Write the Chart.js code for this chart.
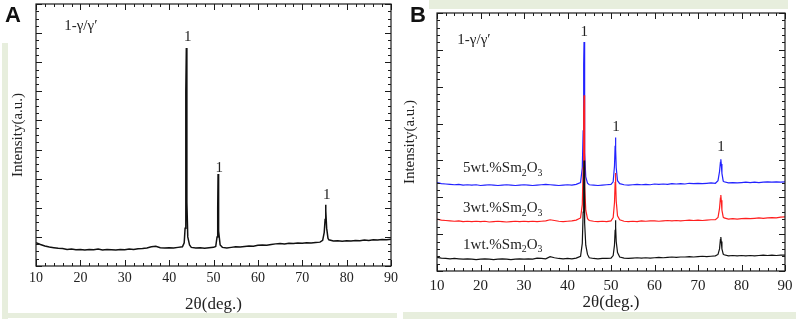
<!DOCTYPE html>
<html>
<head>
<meta charset="utf-8">
<script src="https://cdn.jsdelivr.net/npm/chart.js@4.4.1/dist/chart.umd.min.js"></script>
<style>
  html, body { margin: 0; padding: 0; background: #fff; }
  #page { position: relative; width: 796px; height: 319px; overflow: hidden; }
  .panel { position: absolute; top: 0; width: 400px; height: 319px; }
  .panel canvas { display: block; }
  .tag { position: absolute; font: bold 22px "Liberation Sans", Arial, sans-serif; color: #111; line-height: 22px; }
  .deco { position: absolute; background: #e7eedd; }
</style>
</head>
<body>
<div id="page">
  <div class="deco" style="left:2px;top:43px;width:6px;height:276px;"></div>
  <div class="deco" style="left:2px;top:313px;width:395px;height:5px;"></div>
  <div class="deco" style="left:429px;top:0;width:359px;height:9px;"></div>
  <div class="deco" style="left:403px;top:312px;width:393px;height:7px;"></div>
  <div class="panel" style="left:0;"><canvas id="chartA" width="400" height="319"></canvas></div>
  <div class="panel" style="left:396px;"><canvas id="chartB" width="400" height="319"></canvas></div>
  <div class="tag" style="left:5px;top:4px;">A</div>
  <div class="tag" style="left:410px;top:4px;">B</div>
</div>
<script>
// 2θ positions (deg), shared by every pattern
const twoTheta = [
  10, 11, 12, 13, 14, 15, 16, 17, 18, 19, 20, 21, 22, 23, 24, 25, 26, 27, 28, 29,
  30, 31, 32, 33, 34, 35, 36, 37, 38, 39, 40, 41, 42, 43,
  43.4, 43.6, 43.72, 43.8, 43.88, 44.0, 44.2, 44.6,
  45, 46, 47, 48, 49, 50,
  50.5, 50.8, 50.95, 51.03, 51.1, 51.2, 51.5,
  52, 53, 54, 55, 56, 57, 58, 59, 60, 61, 62, 63, 64, 65, 66, 67, 68, 69, 70, 71, 72, 73, 74,
  74.6, 74.95, 75.15, 75.25, 75.35, 75.5, 75.8,
  76, 77, 78, 79, 80, 81, 82, 83, 84, 85, 86, 87, 88, 89, 90
];

// panel A
const intensityA = [
  0.80, 0.74, 0.69, 0.65, 0.63, 0.61, 0.60, 0.57, 0.58, 0.56, 0.57, 0.55, 0.57, 0.56, 0.58, 0.55, 0.57, 0.56, 0.55, 0.57,
  0.56, 0.58, 0.57, 0.59, 0.60, 0.62, 0.66, 0.68, 0.63, 0.62, 0.63, 0.62, 0.64, 0.66,
  0.80, 1.30, 2.80, 6.00, 7.49, 2.20, 1.00, 0.72,
  0.64, 0.62, 0.63, 0.61, 0.63, 0.64,
  0.67, 1.00, 2.00, 3.16, 2.30, 1.20, 0.72,
  0.64, 0.62, 0.64, 0.66, 0.65, 0.67, 0.69, 0.68, 0.71, 0.72, 0.71, 0.74, 0.76, 0.77, 0.76, 0.78, 0.77, 0.79, 0.78, 0.80, 0.79, 0.81, 0.82,
  0.88, 1.15, 1.60, 2.10, 1.90, 1.30, 0.95,
  0.90, 0.86, 0.87, 0.85, 0.87, 0.86, 0.88, 0.87, 0.89, 0.88, 0.90, 0.89, 0.91, 0.90, 0.92
];

// panel B
const intensity1wt = [
  0.37, 0.35, 0.34, 0.33, 0.34, 0.33, 0.32, 0.33, 0.32, 0.31, 0.32, 0.33, 0.32, 0.31, 0.32, 0.33, 0.32, 0.31, 0.32, 0.33,
  0.32, 0.33, 0.32, 0.35, 0.34, 0.33, 0.39, 0.36, 0.34, 0.33, 0.34, 0.33, 0.35, 0.40,
  0.75, 1.60, 2.60, 3.00, 2.40, 1.30, 0.70, 0.45,
  0.36, 0.34, 0.33, 0.34, 0.34, 0.35,
  0.42, 0.70, 1.10, 1.38, 1.20, 0.80, 0.50,
  0.38, 0.35, 0.34, 0.35, 0.36, 0.35, 0.36, 0.35, 0.36, 0.37, 0.36, 0.37, 0.38, 0.37, 0.38, 0.38, 0.39, 0.38, 0.39, 0.40, 0.39, 0.40, 0.41,
  0.45, 0.60, 0.85, 0.92, 0.80, 0.60, 0.46,
  0.44, 0.41, 0.42, 0.41, 0.42, 0.41, 0.42, 0.41, 0.42, 0.43, 0.42, 0.43, 0.42, 0.43, 0.43
];
const intensity3wt = [
  1.41, 1.38, 1.37, 1.36, 1.35, 1.36, 1.34, 1.35, 1.34, 1.35, 1.34, 1.35, 1.33, 1.34, 1.35, 1.34, 1.33, 1.34, 1.35, 1.34,
  1.35, 1.34, 1.35, 1.34, 1.35, 1.36, 1.39, 1.37, 1.35, 1.34, 1.35, 1.36, 1.38, 1.44,
  1.80, 2.80, 4.30, 4.77, 3.80, 2.30, 1.65, 1.42,
  1.37, 1.35, 1.34, 1.35, 1.34, 1.36,
  1.45, 1.85, 2.40, 2.66, 2.40, 1.90, 1.50,
  1.39, 1.35, 1.34, 1.35, 1.34, 1.36, 1.35, 1.36, 1.36, 1.35, 1.36, 1.37, 1.36, 1.37, 1.36, 1.37, 1.38, 1.37, 1.38, 1.37, 1.38, 1.39, 1.39,
  1.45, 1.70, 1.98, 2.06, 1.92, 1.65, 1.46,
  1.44, 1.41, 1.42, 1.41, 1.42, 1.43, 1.42, 1.43, 1.44, 1.43, 1.44, 1.45, 1.44, 1.46, 1.47
];
const intensity5wt = [
  2.40, 2.37, 2.36, 2.35, 2.34, 2.35, 2.33, 2.34, 2.33, 2.34, 2.32, 2.33, 2.34, 2.33, 2.32, 2.33, 2.34, 2.33, 2.32, 2.33,
  2.34, 2.33, 2.32, 2.33, 2.34, 2.35, 2.34, 2.33, 2.32, 2.33, 2.34, 2.33, 2.35, 2.40,
  2.80, 3.80, 5.60, 6.21, 4.80, 3.20, 2.55, 2.38,
  2.34, 2.33, 2.32, 2.33, 2.34, 2.35,
  2.42, 2.85, 3.40, 3.62, 3.30, 2.80, 2.45,
  2.37, 2.34, 2.33, 2.34, 2.35, 2.34, 2.35, 2.34, 2.36, 2.35, 2.36, 2.35, 2.37, 2.36, 2.37, 2.36, 2.38, 2.37, 2.38, 2.37, 2.38, 2.39, 2.38,
  2.45, 2.70, 2.95, 3.03, 2.90, 2.65, 2.44,
  2.42, 2.39, 2.40, 2.39, 2.40, 2.41, 2.40, 2.41, 2.40, 2.41, 2.42, 2.41, 2.42, 2.41, 2.42
];

const xTickLabels = [10, 20, 30, 40, 50, 60, 70, 80, 90];
const phaseLabel = '1-γ/γ′';
const peakIndex = '1';
const samples = [['1wt.%Sm', '2', 'O', '3'], ['3wt.%Sm', '2', 'O', '3'], ['5wt.%Sm', '2', 'O', '3']];

const SERIF = '"Liberation Serif", "Times New Roman", serif';
Chart.defaults.font.family = SERIF;
Chart.defaults.color = '#222';

function toPoints(values) {
  return twoTheta.map((t, i) => ({ x: t, y: values[i] }));
}

// inward ticks on all four sides + frame
const framePlugin = {
  id: 'frame',
  afterDraw(chart) {
    const { ctx, chartArea: a, scales: { x, y } } = chart;
    ctx.save();
    ctx.strokeStyle = '#1a1a1a';
    ctx.lineWidth = 1.2;
    ctx.strokeRect(a.left, a.top, a.right - a.left, a.bottom - a.top);
    ctx.lineWidth = 1;
    ctx.beginPath();
    x.ticks.forEach(t => {
      const px = Math.round(x.getPixelForValue(t.value)) + 0.5;
      const len = Math.abs(t.value % 10) < 1e-6 ? 6 : 3;
      ctx.moveTo(px, a.bottom); ctx.lineTo(px, a.bottom - len);
      ctx.moveTo(px, a.top); ctx.lineTo(px, a.top + len);
    });
    y.ticks.forEach(t => {
      const py = Math.round(y.getPixelForValue(t.value)) + 0.5;
      const len = Math.abs(t.value - Math.round(t.value)) < 1e-6 ? 6 : 3;
      ctx.moveTo(a.left, py); ctx.lineTo(a.left + len, py);
      ctx.moveTo(a.right, py); ctx.lineTo(a.right - len, py);
    });
    ctx.stroke();
    ctx.restore();
  }
};

// text notes placed in data coordinates; parts alternate normal / subscript
function notesPlugin(notes) {
  return {
    id: 'notes',
    afterDatasetsDraw(chart) {
      const { ctx, scales: { x, y } } = chart;
      ctx.save();
      ctx.fillStyle = '#222';
      ctx.textBaseline = 'middle';
      notes.forEach(n => {
        let px = x.getPixelForValue(n.x);
        const py = y.getPixelForValue(n.y);
        const size = n.size || 15;
        if (n.parts) {
          ctx.textAlign = 'left';
          n.parts.forEach((p, i) => {
            const sub = i % 2 === 1;
            ctx.font = (sub ? size * 0.65 : size) + 'px ' + SERIF;
            ctx.fillText(p, px, sub ? py + 5 : py);
            px += ctx.measureText(p).width;
          });
        } else {
          ctx.textAlign = 'center';
          ctx.font = size + 'px ' + SERIF;
          ctx.fillText(n.text, px, py);
        }
      });
      ctx.restore();
    }
  };
}

function makeOptions(cfg) {
  return {
    responsive: false,
    animation: false,
    layout: { padding: cfg.padding },
    plugins: { legend: { display: false }, tooltip: { enabled: false } },
    elements: { point: { radius: 0 }, line: { tension: 0 } },
    scales: {
      x: {
        type: 'linear', min: 10, max: 90,
        grid: { display: false, drawTicks: false },
        border: { display: false },
        afterFit: s => { s.height = cfg.xHeight; },
        ticks: {
          stepSize: 2, autoSkip: false, maxRotation: 0,
          padding: 2,
          font: { family: SERIF, size: cfg.tickSize, lineHeight: cfg.tickLine },
          color: '#222',
          callback: v => xTickLabels.includes(v) ? String(v) : ''
        },
        title: {
          display: true, text: '2θ(deg.)', color: '#222',
          font: { family: SERIF, size: 17 },
          padding: { top: 0, bottom: cfg.xTitleBottom }
        }
      },
      y: {
        min: 0, max: cfg.yMax,
        grid: { display: false, drawTicks: false },
        border: { display: false },
        afterFit: s => { s.width = cfg.yWidth; },
        ticks: { display: false, stepSize: cfg.yStep },
        title: {
          display: true, text: 'Intensity(a.u.)', color: '#222',
          font: { family: SERIF, size: 15 },
          padding: { top: cfg.yTitleTop, bottom: 0 }
        }
      }
    }
  };
}

const notesA = [
  { x: 20.1, y: 8.25, text: phaseLabel },
  { x: 44.2, y: 7.85, text: peakIndex },
  { x: 51.3, y: 3.35, text: peakIndex },
  { x: 75.5, y: 2.45, text: peakIndex }
];

const notesB = [
  { x: 18.5, y: 6.26, text: phaseLabel },
  { x: 43.86, y: 6.48, text: peakIndex },
  { x: 51.15, y: 3.9, text: peakIndex },
  { x: 75.3, y: 3.36, text: peakIndex },
  { x: 16, y: 2.79, parts: samples[2] },
  { x: 16, y: 1.71, parts: samples[1] },
  { x: 16, y: 0.71, parts: samples[0] }
];

new Chart(document.getElementById('chartA'), {
  type: 'line',
  data: {
    datasets: [
      { label: 'A', data: toPoints(intensityA), borderColor: '#111', borderWidth: 1.5 }
    ]
  },
  options: makeOptions({
    padding: { left: 4, right: 9, top: 4, bottom: 4 },
    xHeight: 49, yWidth: 32,
    tickSize: 14, tickLine: 1.5,
    xTitleBottom: 0,
    yTitleTop: 5,
    yMax: 9, yStep: 0.25
  }),
  plugins: [framePlugin, notesPlugin(notesA)]
});

new Chart(document.getElementById('chartB'), {
  type: 'line',
  data: {
    datasets: [
      { label: '1wt.%Sm2O3', data: toPoints(intensity1wt), borderColor: '#111', borderWidth: 1.2 },
      { label: '3wt.%Sm2O3', data: toPoints(intensity3wt), borderColor: '#ff1f1f', borderWidth: 1.2 },
      { label: '5wt.%Sm2O3', data: toPoints(intensity5wt), borderColor: '#2222ff', borderWidth: 1.2 }
    ]
  },
  options: makeOptions({
    padding: { left: 2, right: 11, top: 13, bottom: 8 },
    xHeight: 40, yWidth: 39,
    tickSize: 15, tickLine: 1.73,
    xTitleBottom: -2,
    yTitleTop: 3.5,
    yMax: 7, yStep: 0.2
  }),
  plugins: [framePlugin, notesPlugin(notesB)]
});
</script>
</body>
</html>
